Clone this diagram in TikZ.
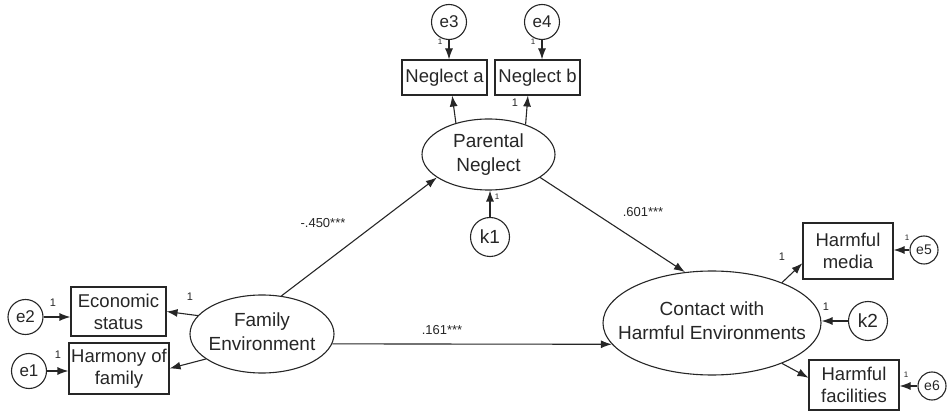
\documentclass[tikz,border=0pt]{standalone}
\usepackage{fontspec}
\setmainfont{Liberation Sans}
\usetikzlibrary{shapes.geometric,arrows.meta}
\newcommand\zwtext[1]{\makebox[0pt]{\begin{tabular}{@{}c@{}}#1\end{tabular}}}
\begin{document}
\begin{tikzpicture}[x=1pt,y=-1pt,
  every node/.style={text=black!85},
  lat/.style={draw=black!85, ellipse, inner sep=0pt, font=\fontsize{19}{24}\selectfont, line width=1.1pt},
  obs/.style={draw=black!85, rectangle, inner sep=0pt, align=center, font=\fontsize{18.5}{22}\selectfont, line width=1.1pt},
  err/.style={draw=black!85, circle, inner sep=0pt, minimum size=35pt, font=\fontsize{17}{17}\selectfont, line width=1.1pt},
  serr/.style={err, minimum size=28pt, font=\fontsize{14}{14}\selectfont},
  dist/.style={err, minimum size=39pt, font=\fontsize{19}{19}\selectfont},
  arr/.style={draw=black!85, -{Latex[length=11pt,width=8pt]}, line width=1.1pt},
  coef/.style={font=\fontsize{13}{13}\selectfont, inner sep=0pt},
  one/.style={font=\fontsize{11}{11}\selectfont, inner sep=0pt},
  tinyone/.style={font=\fontsize{8}{8}\selectfont, inner sep=0pt}]
\useasboundingbox (0,0) rectangle (947,411);

% latent variables
\node[lat, minimum width=144pt, minimum height=78pt] (FE) at (262,334) {\zwtext{Family\\Environment}};
\node[lat, minimum width=133pt, minimum height=71pt] (PN) at (488.5,154.5) {\zwtext{Parental\\Neglect}};
\node[lat, minimum width=218pt, minimum height=104pt] (CH) at (712,323) {\zwtext{Contact with\\Harmful Environments}};

% observed variables
\node[obs, minimum width=95pt, minimum height=49pt] (ES) at (118.5,311.5) {Economic\\status};
\node[obs, minimum width=100pt, minimum height=51pt] (HF) at (119,368.5) {Harmony of\\family};
\node[obs, minimum width=85pt, minimum height=35pt] (NA) at (444.5,77.5) {Neglect a};
\node[obs, minimum width=85pt, minimum height=35pt] (NB) at (537.5,77.5) {Neglect b};
\node[obs, minimum width=90pt, minimum height=56pt] (HM) at (848,251) {Harmful\\media};
\node[obs, minimum width=90pt, minimum height=50pt] (HX) at (854,385) {Harmful\\facilities};

% error terms
\node[err] (e3) at (449,22) {e3};
\node[err] (e4) at (542,22) {e4};
\node[err] (e2) at (25.5,317) {e2};
\node[err] (e1) at (29,371) {e1};
\node[serr] (e5) at (924,250) {e5};
\node[serr] (e6) at (932,386) {e6};
\node[dist] (k1) at (490,237) {k1};
\node[dist] (k2) at (868,321) {k2};

% structural paths
\draw[arr] (FE.63) -- (PN.204);
\draw[arr] (PN.-24) -- (CH.118);
\draw[arr] (FE.-8) -- (CH.192);

% measurement paths
\draw[arr] (FE.164) -- (ES.east);
\draw[arr] (FE.204.5) -- (HF.east);
\draw[arr] (PN.136) -- (NA.-67);
\draw[arr] (PN.39) -- (NB.-118.5);
\draw[arr] (CH.30.4) -- (HM.195.6);
\draw[arr] (CH.-30.5) -- (HX.171.5);

% error paths
\draw[arr] (e3) -- (e3 |- NA.north);
\draw[arr] (e4) -- (e4 |- NB.north);
\draw[arr] (e2) -- (e2 -| ES.west);
\draw[arr] (e1) -- (e1 -| HF.west);
\draw[arr] (e5) -- (e5 -| HM.east);
\draw[arr] (e6) -- (e6 -| HX.east);
\draw[arr] (k1) -- (k1 |- PN.south);
\draw[arr] (k2) -- (k2 -| CH.east);

% coefficients
\node[coef] (c1) at (323,223) {-.450***};
\node[coef] (c2) at (643,212) {.601***};
\node[coef] (c3) at (442,330) {.161***};

% fixed loadings
\node[one] (o1) at (53,303) {1};
\node[one] (o2) at (190,297) {1};
\node[one] (o3) at (58,355) {1};
\node[one] (o4) at (782,257) {1};
\node[one] (o5) at (826,307) {1};
\node[one] (o6) at (515,103) {1};
\node[tinyone] (t1) at (440,42) {1};
\node[tinyone] (t2) at (533,42) {1};
\node[tinyone] (t3) at (497,197) {1};
\node[tinyone] (t4) at (907,238) {1};
\node[tinyone] (t5) at (906,375) {1};
\end{tikzpicture}
\end{document}
